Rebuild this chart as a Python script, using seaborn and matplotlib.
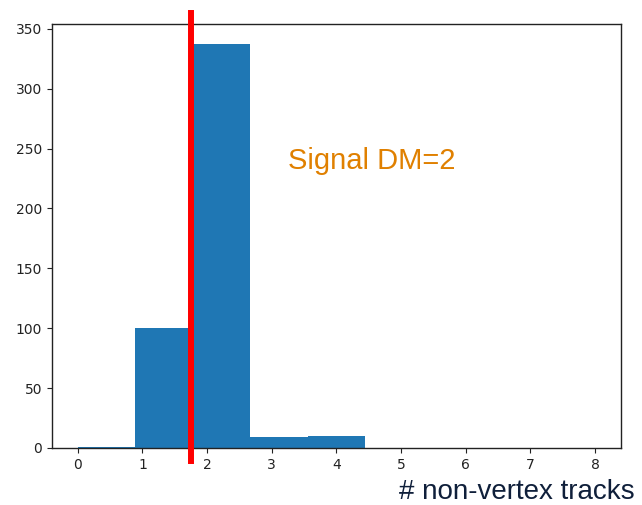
import matplotlib
matplotlib.use("Agg")
import matplotlib.pyplot as plt
import seaborn as sns
import numpy as np
import pandas as pd

# Data: number of non-vertex tracks (integer values) and counts
track_values = [0, 1, 2, 3, 4, 5, 6, 7, 8]
track_counts = [1, 100, 337, 9, 10, 0, 0, 0, 0]
n_bins = 9
cut_value = 1.75
annotation = "Signal DM=2"
xlabel = "# non-vertex tracks"

df = pd.DataFrame({"tracks": track_values, "count": track_counts})

fig = plt.figure(figsize=(6.42, 5.05), dpi=100)
ax = fig.add_axes([0.081, 0.113, 0.886, 0.839])

sns.histplot(data=df, x="tracks", weights="count", bins=n_bins,
             binrange=(min(track_values), max(track_values)),
             color="#1f77b4", alpha=1, linewidth=0, ax=ax)

ax.set_xlim(-0.4, 8.4)
ax.set_ylim(0, max(track_counts) * 1.05)
ax.set_xticks(range(0, 9))
ax.set_yticks(range(0, 351, 50))
ax.set_xlabel("")
ax.set_ylabel("")
ax.tick_params(labelsize=10, colors="#222222", labelcolor="#222222")
for s in ax.spines.values():
    s.set_linewidth(1.0)
    s.set_color("#222222")

ax.axvline(cut_value, ymin=-0.031, ymax=1.026, color="#ff0000", linewidth=4.3,
           clip_on=False, zorder=5)

ax.text(4.54, 240, annotation, color="#E08000", fontsize=21,
        family="Liberation Sans", ha="center", va="center")

fig.text(0.989, 0.025, xlabel, color="#0F1F3A", fontsize=20,
         family="Liberation Sans", ha="right", va="center")

fig.savefig("out.png", dpi=100)
